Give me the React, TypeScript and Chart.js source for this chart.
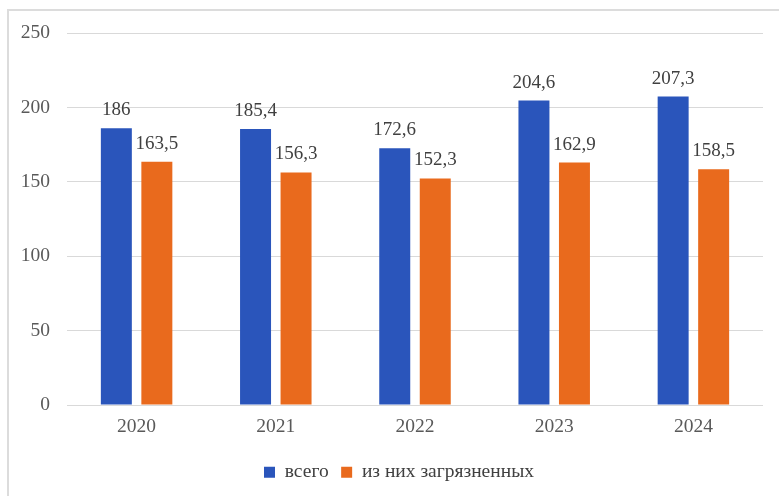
import React, { useEffect, useRef } from "react";
import { Chart, registerables } from "chart.js";

Chart.register(...registerables);

const categories = ["2020", "2021", "2022", "2023", "2024"];
const totalValues = [186, 185.4, 172.6, 204.6, 207.3];
const pollutedValues = [163.5, 156.3, 152.3, 162.9, 158.5];
const seriesNames = ["всего", "из них загрязненных"];
const yTicks = [0, 50, 100, 150, 200, 250];

const FONT = "'Liberation Serif', 'Times New Roman', serif";
const BLUE = "#2A55BB";
const ORANGE = "#E96A1D";

const fmt = (v: number) => String(v).replace(".", ",");

const dataLabels = {
  id: "dataLabels",
  afterDatasetsDraw(chart: any) {
    const ctx = chart.ctx;
    ctx.save();
    ctx.font = `19px ${FONT}`;
    ctx.fillStyle = "#404040";
    ctx.textAlign = "center";
    ctx.textBaseline = "alphabetic";
    chart.data.datasets.forEach((ds: any, i: number) => {
      const meta = chart.getDatasetMeta(i);
      meta.data.forEach((el: any, j: number) => {
        ctx.fillText(fmt(ds.data[j]), el.x, el.y - 13);
      });
    });
    ctx.restore();
  },
};

const legendShift = {
  id: "legendShift",
  afterLayout(chart: any) {
    const l = chart.legend;
    if (l) {
      l.left += 9;
      l.right += 9;
    }
  },
};

export default function App() {
  const ref = useRef<HTMLCanvasElement | null>(null);
  useEffect(() => {
    if (!ref.current) return;
    const chart = new Chart(ref.current, {
      type: "bar",
      data: {
        labels: categories,
        datasets: [
          {
            label: seriesNames[0],
            data: totalValues,
            backgroundColor: BLUE,
            categoryPercentage: 0.582,
            barPercentage: 0.765,
          },
          {
            label: seriesNames[1],
            data: pollutedValues,
            backgroundColor: ORANGE,
            categoryPercentage: 0.582,
            barPercentage: 0.765,
          },
        ],
      },
      options: {
        animation: false,
        responsive: false,
        devicePixelRatio: 1,
        layout: { padding: { top: 33, left: 17, right: 16, bottom: 4 } },
        plugins: {
          legend: {
            position: "bottom",
            labels: {
              boxWidth: 11,
              boxHeight: 11,
              padding: 12.5,
              color: "#404040",
              font: { family: FONT, size: 19.5 },
            },
          },
          tooltip: { enabled: false },
        },
        scales: {
          x: {
            grid: { display: false },
            border: { display: false },
            ticks: {
              padding: 2,
              color: "#595959",
              font: { family: FONT, size: 19.5 },
            },
            afterFit: (s: any) => {
              s.height = 45;
            },
          },
          y: {
            min: 0,
            max: 250,
            afterBuildTicks: (s: any) => {
              s.ticks = yTicks.map((v) => ({ value: v }));
            },
            grid: { color: "#d9d9d9", lineWidth: 1, drawTicks: false },
            border: { display: false },
            ticks: {
              padding: 17,
              color: "#595959",
              font: { family: FONT, size: 19.5 },
            },
            afterFit: (s: any) => {
              s.width = 50;
            },
          },
        },
      },
      plugins: [dataLabels, legendShift],
    });
    return () => chart.destroy();
  }, []);
  return (
    <div
      style={{
        position: "absolute",
        left: 0,
        top: 0,
        width: 779,
        height: 496,
        overflow: "hidden",
        background: "#fff",
      }}
    >
      <div
        style={{
          position: "absolute",
          left: 7,
          top: 9,
          width: 772,
          height: 487,
          borderLeft: "2px solid #dcdcdc",
          borderTop: "2px solid #dcdcdc",
          boxSizing: "border-box",
        }}
      />
      <canvas
        ref={ref}
        width={779}
        height={496}
        style={{ position: "absolute", left: 0, top: 0, width: 779, height: 496 }}
      />
    </div>
  );
}
